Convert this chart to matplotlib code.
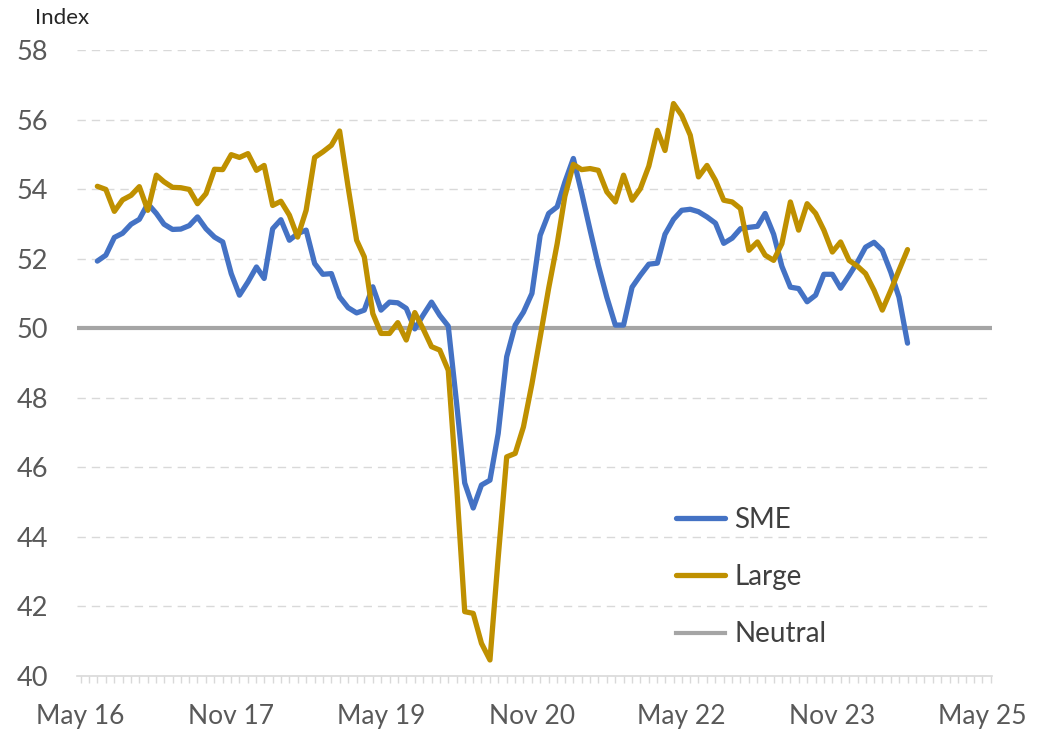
import numpy as np
import pandas as pd
import matplotlib
matplotlib.use("Agg")
from matplotlib import pyplot as plt
import matplotlib.dates as mdates

plt.rcParams['font.family'] = ['Lato', 'DejaVu Sans']

# ------------ data (monthly index, Jul 2016 onwards)
start = '2016-07-01'
sme = [51.93, 52.10, 52.61, 52.73, 52.99, 53.13, 53.58, 53.30, 52.99, 52.84,
       52.85, 52.95, 53.20, 52.86, 52.62, 52.48, 51.57, 50.95, 51.33, 51.76,
       51.43, 52.86, 53.12, 52.53, 52.72, 52.82, 51.86, 51.55, 51.57, 50.90,
       50.59, 50.44, 50.52, 51.19, 50.52, 50.75, 50.73, 50.57, 49.98, 50.37,
       50.75, 50.37, 50.06, 47.80, 45.55, 44.83, 45.49, 45.63, 46.97, 49.18,
       50.09, 50.46, 51.00, 52.67, 53.30, 53.49, 54.20, 54.88, 53.90, 52.82,
       51.81, 50.89, 50.09, 50.09, 51.18, 51.52, 51.84, 51.87, 52.70, 53.13,
       53.39, 53.42, 53.35, 53.20, 53.02, 52.44, 52.59, 52.86, 52.90, 52.93,
       53.30, 52.70, 51.78, 51.18, 51.14, 50.76, 50.95, 51.55, 51.55, 51.15,
       51.52, 51.91, 52.33, 52.47, 52.24, 51.61, 50.89, 49.57]
large = [54.08, 53.99, 53.36, 53.69, 53.82, 54.07, 53.39, 54.40, 54.21, 54.05,
         54.04, 53.99, 53.58, 53.87, 54.57, 54.56, 54.99, 54.91, 55.02, 54.54,
         54.68, 53.53, 53.65, 53.25, 52.62, 53.39, 54.91, 55.07, 55.26, 55.67,
         54.06, 52.53, 52.05, 50.42, 49.85, 49.85, 50.16, 49.66, 50.45, 49.99,
         49.47, 49.37, 48.79, 45.40, 41.85, 41.80, 40.94, 40.46, 43.40, 46.30,
         46.40, 47.16, 48.40, 49.74, 51.15, 52.43, 53.79, 54.71, 54.56, 54.59,
         54.54, 53.92, 53.63, 54.40, 53.68, 54.01, 54.66, 55.69, 55.11, 56.46,
         56.12, 55.55, 54.35, 54.68, 54.25, 53.68, 53.63, 53.44, 52.24, 52.48,
         52.10, 51.95, 52.43, 53.63, 52.82, 53.58, 53.30, 52.82, 52.19, 52.48,
         51.95, 51.78, 51.57, 51.09, 50.52, 51.09, 51.67, 52.26]
neutral = 50
dates = pd.date_range(start, periods=len(sme), freq='MS')

yticks = list(range(40, 59, 2))
xticks = pd.date_range('2016-05-01', '2025-05-01', freq='18MS')

blue = '#4472C4'
gold = '#BF9000'
grey = '#A5A5A5'
txt = '#595959'

# ------------ figure
fig = plt.figure(figsize=(10.51, 7.35), dpi=100, facecolor='white')
ax = fig.add_axes([0.0733, 0.0803, 0.8706, 0.8517])

ax.axhline(neutral, color=grey, linewidth=3.0, label='Neutral', zorder=2)
ax.plot(dates, sme, color=blue, linewidth=3.8, label='SME', zorder=3,
        solid_joinstyle='round', solid_capstyle='round')
ax.plot(dates, large, color=gold, linewidth=3.8, label='Large', zorder=4,
        solid_joinstyle='round', solid_capstyle='round')

ax.set_ylim(40, 58)
ax.set_xlim(pd.Timestamp('2016-04-18'), pd.Timestamp('2025-06-05'))
ax.set_yticks(yticks)
ax.set_xticks(xticks)
ax.xaxis.set_major_formatter(mdates.DateFormatter('%b %y'))
ax.xaxis.set_minor_locator(mdates.MonthLocator())

ax.yaxis.grid(True, color='#D9D9D9', linewidth=1.0, linestyle=(0, (6, 4.3)), zorder=0)
ax.set_axisbelow(True)

for s in ['top', 'right', 'left']:
    ax.spines[s].set_visible(False)
ax.spines['bottom'].set_color('#D9D9D9')
ax.spines['bottom'].set_linewidth(1.2)

ax.tick_params(axis='y', length=0, pad=21, labelsize=19.5, labelcolor=txt)
ax.tick_params(axis='x', which='both', length=5, width=1, color='#D9D9D9',
               pad=15, labelsize=19, labelcolor=txt)

fig.text(35/1051, 1 - 18/735, 'Index', fontsize=16, color='#262626', va='center', ha='left')

# legend, keep order SME, Large, Neutral
h, l = ax.get_legend_handles_labels()
order = [l.index('SME'), l.index('Large'), l.index('Neutral')]
ax.legend([h[i] for i in order], [l[i] for i in order],
          loc='upper left', bbox_to_anchor=(651/1051, 1 - 482/735),
          bbox_transform=fig.transFigure, frameon=False, fontsize=20,
          labelcolor='#404040', handlelength=1.75, handletextpad=0.35,
          labelspacing=1.12)

plt.savefig('out.png', dpi=100, facecolor='white')
